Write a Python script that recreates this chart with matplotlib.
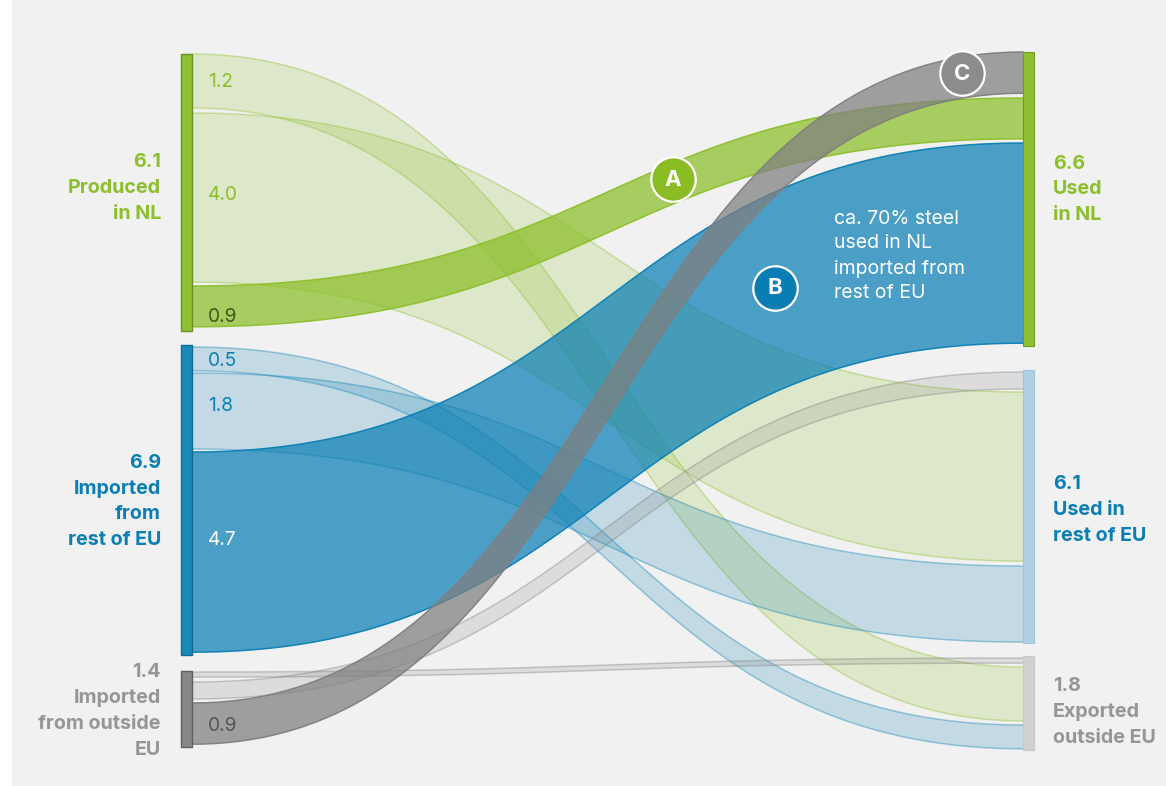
import numpy as np
import matplotlib
matplotlib.use("Agg")
import matplotlib.pyplot as plt
from matplotlib.patches import Rectangle

plt.rcParams['font.family'] = ['Inter', 'DejaVu Sans']

# ---- data -------------------------------------------------------------
source_nodes = ["Produced in NL", "Imported from rest of EU", "Imported from outside EU"]
target_nodes = ["Exported outside EU", "Used in rest of EU", "Used in NL"]

produced_flows = [1.27, 3.98, 0.96]     # to exported, rest of EU, NL
imported_eu_flows = [0.56, 1.79, 4.71]  # to exported, rest of EU, NL
imported_out_flows = [0.12, 0.40, 0.97]  # to exported, rest of EU, NL
flow_labels = [["1.2", "4.0", "0.9"], ["0.5", "1.8", "4.7"], ["", "", "0.9"]]

source_labels = ["6.1\nProduced\nin NL", "6.9\nImported\nfrom\nrest of EU", "1.4\nImported\nfrom outside\nEU"]
target_labels = ["6.6\nUsed\nin NL", "6.1\nUsed in\nrest of EU", "1.8\nExported\noutside EU"]
note_text = "ca. 70% steel\nused in NL\nimported from\nrest of EU"

# ---- layout and style --------------------------------------------------
W, H = 1166, 786
PX_PER_UNIT = 42.5
px = lambda p: np.asarray(p, dtype=float) / PX_PER_UNIT

GREEN, BLUE, GREY = "#8dbf2c", "#0b7fb4", "#7f7f7f"
X0, X1 = 192, 1023
BAR = 11

# band tops in pixels, rows = source, columns = destination
src_tops = [[54, 113, 286], [347, 373, 452], [672, 682, 703]]
dst_tops = [[667, 392, 98], [725, 566, 143], [658, 372, 52]]
flows = [produced_flows, imported_eu_flows, imported_out_flows]
colors = [GREEN, BLUE, GREY]
light_alpha = [0.2, 0.2, 0.18]
strong_alpha = [0.74, 0.72, 0.72]
strong_z = [4, 3, 5]

src_bars = [(53.5, 330.5, "#8fc031", "#6b8f2a"), (345, 655, "#1a8bb9", "#0e6c94"), (671, 747, "#888888", "#5f5f5f")]
tgt_bars = [(52, 346, "#8fc031", "#6f9a28"), (370, 643, "#aed0e2", "#a0c4d8"), (656, 750, "#d0d0d0", "#c8c8c8")]

fig = plt.figure(figsize=(W / 100, H / 100), dpi=100, facecolor="white")
ax = fig.add_axes([0, 0, 1, 1])
ax.set_xlim(0, W)
ax.set_ylim(px(H), 0)
ax.axis("off")

ax.add_patch(Rectangle((12, px(-5)), W, px(790.5), fc="#f1f1f1", ec="none", zorder=0))

t = np.linspace(0, 1, 200)
bx = 1.5 * t * (1 - t) + t ** 3
by = 3 * (1 - t) * t ** 2 + t ** 3
xs = X0 + (X1 - X0) * bx


def ribbon(y0, y1, value, color, alpha, line_alpha, z):
    top = px(y0) + (px(y1) - px(y0)) * by
    bottom = top + value
    ax.fill(np.r_[xs, xs[::-1]], np.r_[top, bottom[::-1]], fc=color, alpha=alpha, ec="none", zorder=z)
    ax.plot(xs, top, color=color, lw=1.1, alpha=line_alpha, zorder=z)
    ax.plot(xs, bottom, color=color, lw=1.1, alpha=line_alpha, zorder=z)


for s in range(3):
    for d in range(2):
        ribbon(src_tops[s][d], dst_tops[s][d], flows[s][d], colors[s], light_alpha[s], 0.38, 2)
    ribbon(src_tops[s][2], dst_tops[s][2], flows[s][2], colors[s], strong_alpha[s], 0.95, strong_z[s])

for (a, b, fc, ec) in src_bars:
    ax.add_patch(Rectangle((X0 - BAR, px(a)), BAR, px(b - a), fc=fc, ec=ec, lw=1.0, zorder=6))
for (a, b, fc, ec) in tgt_bars:
    ax.add_patch(Rectangle((X1, px(a)), BAR, px(b - a), fc=fc, ec=ec, lw=0.8, zorder=6))

bold = dict(fontsize=14.2, fontweight="bold", linespacing=1.55, zorder=8)
for label, yc, c in zip(source_labels, [188, 501.5, 711], [GREEN, BLUE, "#969696"]):
    ax.text(161, px(yc), label, ha="right", va="center", color=c, **bold)
for label, yc, c in zip(target_labels, [189.5, 510, 712], [GREEN, BLUE, "#969696"]):
    ax.text(1053, px(yc), label, ha="left", va="center", color=c, **bold)

val_pos = [[82, 195, 317], [361, 406, 540], [0, 0, 726]]
val_col = [["#8dbf2c", "#8dbf2c", "#40591a"], ["#0b7fb4", "#0b7fb4", "white"], ["", "", "#555555"]]
for row, ys, cs in zip(flow_labels, val_pos, val_col):
    for lab, yy, cc in zip(row, ys, cs):
        if lab:
            ax.text(208, px(yy), lab, ha="left", va="center", color=cc, fontsize=13.8, zorder=8)

ax.text(834, px(256), note_text, ha="left", va="center", color="white", fontsize=14.0, linespacing=1.5, zorder=8)

for name, x, y, c in [("A", 673, 179, "#8abd24"), ("B", 775, 288, "#0a7db5"), ("C", 962, 73, "#8c8c8c")]:
    ax.scatter([x], [px(y)], s=32 ** 2, c=c, edgecolors="white", linewidths=1.6, zorder=9)
    ax.text(x, px(y + 0.5), name, ha="center", va="center", color="white", fontsize=16, fontweight="bold", zorder=10)

fig.savefig("out.png", dpi=100, facecolor="white")
